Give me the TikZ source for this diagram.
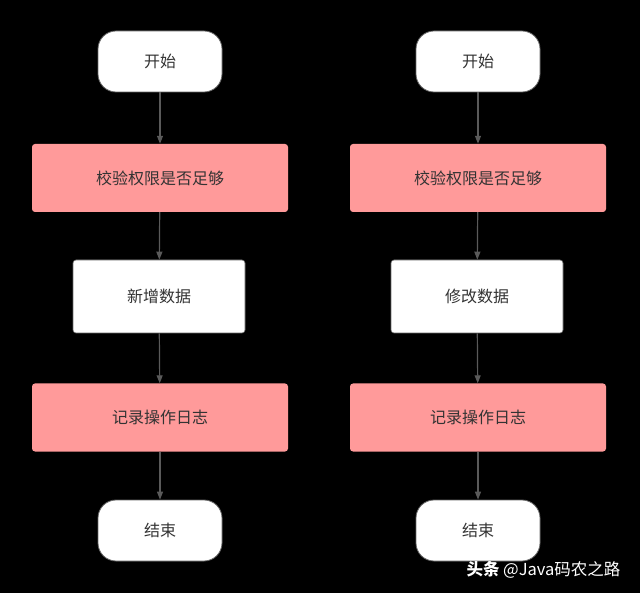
\documentclass[tikz,border=0pt]{standalone}
\usepackage{fontspec}
\setmainfont{Noto Sans CJK SC}
\usetikzlibrary{arrows.meta}
\definecolor{pinkfill}{HTML}{FF9A9A}
\definecolor{txt}{HTML}{333333}
\definecolor{linec}{HTML}{5A5A5A}
\tikzset{
  term/.style={draw=black!60, line width=0.8pt, fill=white, rounded corners=18pt, minimum width=124pt, minimum height=61pt, inner sep=0pt, text=txt, font=\fontsize{16}{19}\selectfont},
  pinkbox/.style={fill=pinkfill, rounded corners=3pt, minimum width=256pt, minimum height=68pt, inner sep=0pt, text=txt, font=\fontsize{16}{19}\selectfont},
  whitebox/.style={draw=black!60, line width=0.6pt, fill=white, rounded corners=3pt, minimum width=172pt, minimum height=73pt, inner sep=0pt, text=txt, font=\fontsize{16}{19}\selectfont},
  conn/.style={draw=linec, line width=1.2pt, -{Triangle[length=8pt,width=6pt]}}
}
\begin{document}
\begin{tikzpicture}[x=1pt,y=-1pt]
\fill[black] (0,0) rectangle (640,593);
\useasboundingbox (0,0) rectangle (640,593);
% left column
\node[term] (ls) at (160,61.5) {开始};
\node[pinkbox] (lc) at (160,178) {校验权限是否足够};
\node[whitebox] (lm) at (159,296.5) {新增数据};
\node[pinkbox] (ll) at (160,417.5) {记录操作日志};
\node[term] (le) at (160,530.5) {结束};
% right column
\node[term] (rs) at (478,61.5) {开始};
\node[pinkbox] (rc) at (478,178) {校验权限是否足够};
\node[whitebox] (rm) at (477,296.5) {修改数据};
\node[pinkbox] (rl) at (478,417.5) {记录操作日志};
\node[term] (re) at (478,530.5) {结束};
\foreach \a/\b in {ls/lc,lc/lm,lm/ll,ll/le,rs/rc,rc/rm,rm/rl,rl/re}{
  \draw[conn] (\a) -- (\b);
}
\node[text=white, font=\fontsize{16.5}{19}\selectfont, anchor=east] (wm) at (624,570) {\textbf{头条} @Java码农之路};
\end{tikzpicture}
\end{document}
